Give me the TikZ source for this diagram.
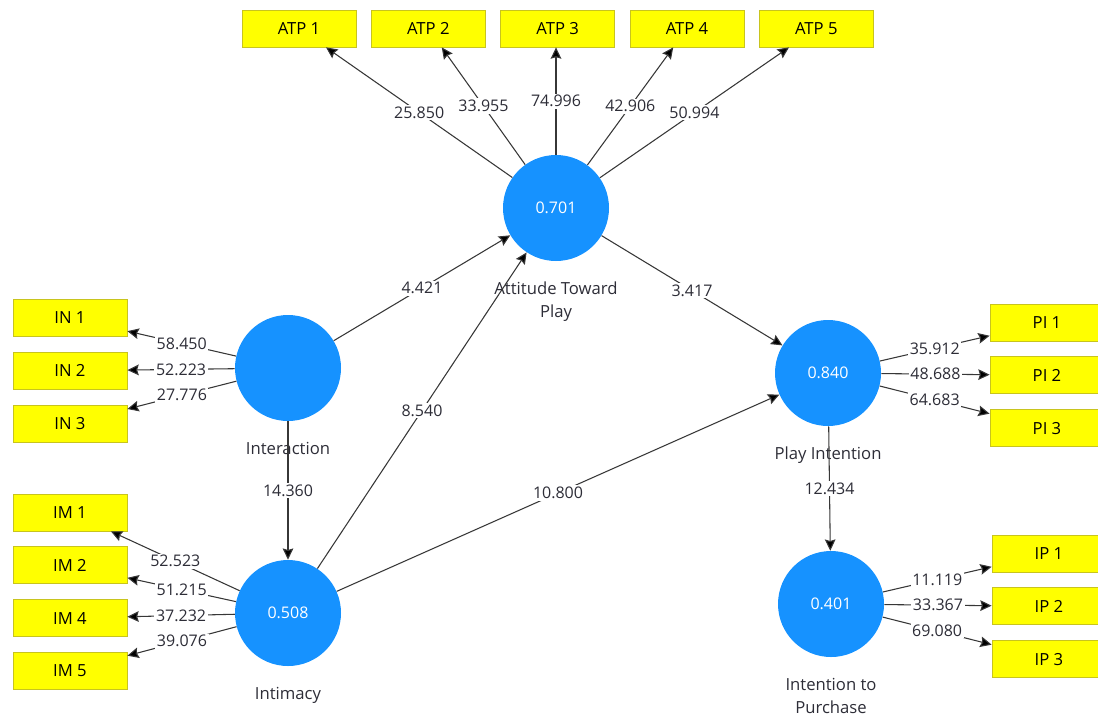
\documentclass[tikz,border=0pt]{standalone}
\usepackage{fontspec}
\setmainfont{Open Sans}
\usepackage{tikz}
\usetikzlibrary{positioning,arrows.meta}

\definecolor{lvblue}{RGB}{22,146,255}
\definecolor{mvyellow}{RGB}{255,255,0}
\definecolor{mvborder}{RGB}{200,196,30}
\definecolor{pathgray}{RGB}{55,55,55}
\definecolor{namegray}{RGB}{45,45,55}

\begin{document}
\begin{tikzpicture}
[
x=0.75pt, y=-0.75pt,
lv/.style={circle, fill=lvblue, minimum size=79.5pt, inner sep=0pt, text=white, font=\fontsize{12}{13}\selectfont},
mv/.style={rectangle, fill=mvyellow, draw=mvborder, line width=0.6pt, minimum width=85.5pt, minimum height=27.75pt, inner sep=0pt, font=\fontsize{12.5}{13}\selectfont},
lv-lb/.style={text=namegray, align=center, inner sep=0pt, font=\fontsize{12.5}{17}\selectfont},
lbl/.style={pos=0.5, fill=white, inner sep=1.2pt, text=namegray, font=\fontsize{12}{13}\selectfont},
path-a/.style={draw=pathgray, line width=0.8pt, -{Stealth[length=8.5pt, width=8pt, inset=1.2pt, fill=black]}}
]

\useasboundingbox (0,0) rectangle (1098,715);

% latent variables
\node (attitude)    [lv] at (556,208) {0.701};
\node (interaction) [lv] at (288,368) {};
\node (intimacy)    [lv] at (288,613) {0.508};
\node (play)        [lv] at (828,373) {0.840};
\node (purchase)    [lv] at (831,604) {0.401};

\node (attitude-lb)    [lv-lb, below = 15.5pt of attitude]    {Attitude Toward\\Play};
\node (interaction-lb) [lv-lb, below = 15.5pt of interaction] {Interaction};
\node (intimacy-lb)    [lv-lb, below = 15.5pt of intimacy]    {Intimacy};
\node (play-lb)        [lv-lb, below = 15.5pt of play]        {Play Intention};
\node (purchase-lb)    [lv-lb, below = 15.5pt of purchase]    {Intention to\\Purchase};

% indicators
\node (atp-1) [mv] at (299,28.5)                {ATP 1};
\node (atp-2) [mv, right = 10.9pt of atp-1]     {ATP 2};
\node (atp-3) [mv, right = 10.9pt of atp-2]     {ATP 3};
\node (atp-4) [mv, right = 10.9pt of atp-3]     {ATP 4};
\node (atp-5) [mv, right = 10.9pt of atp-4]     {ATP 5};

\node (in-1) [mv] at (70,318)                   {IN 1};
\node (in-2) [mv, below = 11.25pt of in-1]      {IN 2};
\node (in-3) [mv, below = 11.25pt of in-2]      {IN 3};

\node (im-1) [mv] at (70,512.5)                 {IM 1};
\node (im-2) [mv, below = 11.25pt of im-1]      {IM 2};
\node (im-4) [mv, below = 11.25pt of im-2]      {IM 4};
\node (im-5) [mv, below = 11.25pt of im-4]      {IM 5};

\node (pi-1) [mv] at (1047,322.5)               {PI 1};
\node (pi-2) [mv, below = 11.25pt of pi-1]      {PI 2};
\node (pi-3) [mv, below = 11.25pt of pi-2]      {PI 3};

\node (ip-1) [mv] at (1049,553.5)               {IP 1};
\node (ip-2) [mv, below = 11.25pt of ip-1]      {IP 2};
\node (ip-3) [mv, below = 11.25pt of ip-2]      {IP 3};

% outer loadings
\draw [path-a] (attitude) -- (atp-1) node[lbl] {25.850};
\draw [path-a] (attitude) -- (atp-2) node[lbl] {33.955};
\draw [path-a] (attitude) -- (atp-3.south -| attitude) node[lbl] {74.996};
\draw [path-a] (attitude) -- (atp-4) node[lbl] {42.906};
\draw [path-a] (attitude) -- (atp-5) node[lbl] {50.994};

\draw [path-a] (interaction) -- (in-1) node[lbl] {58.450};
\draw [path-a] (interaction) -- (in-2) node[lbl] {52.223};
\draw [path-a] (interaction) -- (in-3) node[lbl] {27.776};

\draw [path-a] (intimacy) -- (im-1) node[lbl] {52.523};
\draw [path-a] (intimacy) -- (im-2) node[lbl] {51.215};
\draw [path-a] (intimacy) -- (im-4) node[lbl] {37.232};
\draw [path-a] (intimacy) -- (im-5) node[lbl] {39.076};

\draw [path-a] (play) -- (pi-1) node[lbl] {35.912};
\draw [path-a] (play) -- (pi-2) node[lbl] {48.688};
\draw [path-a] (play) -- (pi-3) node[lbl] {64.683};

\draw [path-a] (purchase) -- (ip-1) node[lbl] {11.119};
\draw [path-a] (purchase) -- (ip-2) node[lbl] {33.367};
\draw [path-a] (purchase) -- (ip-3) node[lbl] {69.080};

% inner model
\draw [path-a] (interaction) -- (attitude) node[lbl] {4.421};
\draw [path-a] (intimacy)    -- (attitude) node[lbl] {8.540};
\draw [path-a] (attitude)    -- (play)     node[lbl] {3.417};
\draw [path-a] (intimacy)    -- (play)     node[lbl] {10.800};
\draw [path-a] (interaction) -- (intimacy) node[lbl] {14.360};
\draw [path-a] (play)        -- (purchase) node[lbl] {12.434};

\end{tikzpicture}
\end{document}
